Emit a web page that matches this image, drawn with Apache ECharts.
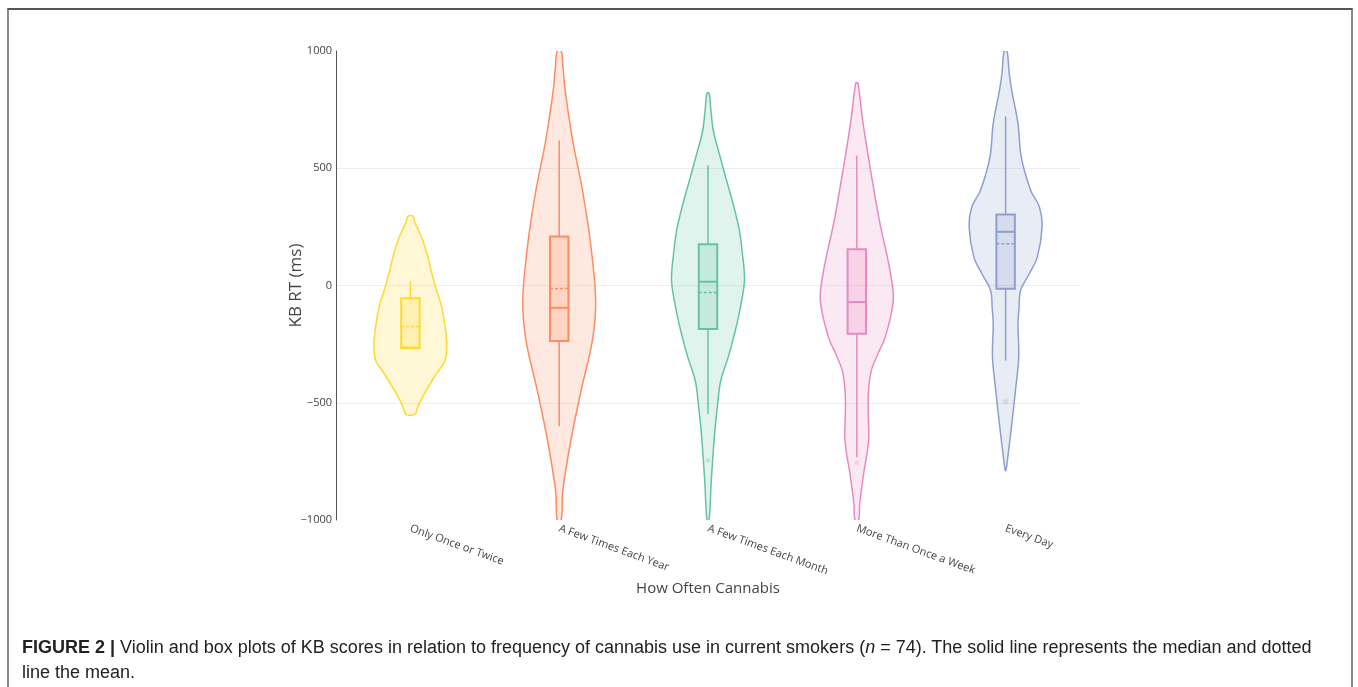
<!DOCTYPE html>
<html>
<head>
<meta charset="utf-8">
<title>Violin plots - KB RT by cannabis frequency</title>
<script src="https://cdn.jsdelivr.net/npm/echarts@6/dist/echarts.min.js"></script>
<style>
  html, body { margin: 0; padding: 0; background: #fff; }
  #page { position: relative; width: 1358px; height: 687px; overflow: hidden; }
  #frame {
    position: absolute; left: 7px; top: 8px; width: 1342px; height: 700px;
    border-top: 2px solid #555; border-left: 2px solid #888; border-right: 2px solid #888;
  }
  #chart { position: absolute; left: 0; top: 0; width: 1358px; height: 687px; }
  #caption {
    position: absolute; left: 22px; top: 635px; width: 1310px;
    font-family: "Liberation Sans Narrow", "Liberation Sans", Arial, sans-serif;
    font-size: 18px; line-height: 25px; color: #222;
  }
  #caption b { font-weight: bold; }
</style>
</head>
<body>
<div id="page">
  <div id="frame"></div>
  <div id="chart"></div>
  <div id="caption"><b>FIGURE 2 |</b> Violin and box plots of KB scores in relation to frequency of cannabis use in current smokers (<i>n</i> = 74). The solid line represents the median and dotted line the mean.</div>
</div>
<script>
// categories on the x axis
const categories = ['Only Once or Twice', 'A Few Times Each Year', 'A Few Times Each Month', 'More Than Once a Week', 'Every Day'];
const yTicks = [-1000, -500, 0, 500, 1000];

// box statistics (ms)
const whiskerLow = [-268, -600, -547, -732, -320];
const boxQ1 = [-268, -237, -185, -206, -14];
const boxMedian = [-265, -95, 16, -71, 229];
const boxQ3 = [-54, 209, 176, 155, 303];
const whiskerHigh = [18, 618, 512, 554, 721];
const means = [-175, -13, -30, -71, 178];
const outliers = [[], [], [-746], [-756], [-495]];

// violin outlines: KB RT levels and relative density (1 = widest point)
const violinY = [
  [295, 270, 249, 192, 121, 50, -21, -92, -163, -249, -320, -377, -462, -519, -550],
  [1000, 938, 831, 618, 405, 192, -64, -235, -448, -661, -874, -1000],
  [820, 746, 661, 590, 448, 341, 235, 128, 21, -92, -192, -298, -405, -512, -618, -831, -1000],
  [863, 704, 490, 277, 64, -64, -220, -291, -362, -433, -504, -575, -647, -718, -789, -930, -1000],
  [1000, 903, 831, 690, 547, 405, 334, 249, 121, 50, -21, -92, -163, -306, -448, -590, -732, -789]
];
const violinDensity = [
  [0.07, 0.12, 0.18, 0.34, 0.48, 0.59, 0.72, 0.86, 0.94, 1.0, 0.95, 0.71, 0.38, 0.2, 0.12],
  [0.055, 0.1, 0.165, 0.37, 0.64, 0.85, 1.0, 0.91, 0.6, 0.32, 0.1, 0.055],
  [0.03, 0.08, 0.145, 0.26, 0.51, 0.7, 0.86, 0.95, 1.0, 0.89, 0.75, 0.57, 0.35, 0.26, 0.19, 0.09, 0.03],
  [0.03, 0.16, 0.38, 0.62, 0.91, 1.0, 0.78, 0.58, 0.4, 0.33, 0.31, 0.32, 0.33, 0.28, 0.2, 0.08, 0.05],
  [0.04, 0.1, 0.17, 0.34, 0.43, 0.69, 0.93, 1.0, 0.87, 0.65, 0.41, 0.37, 0.34, 0.36, 0.27, 0.17, 0.06, 0.01]
];

const colors = ['#ffd92f', '#fc8d62', '#66c2a5', '#e78ac3', '#8da0cb'];

const hexToRgba = (hex, a) => {
  const n = parseInt(hex.slice(1), 16);
  return `rgba(${(n >> 16) & 255}, ${(n >> 8) & 255}, ${n & 255}, ${a})`;
};

const renderViolin = (params, api) => {
  const i = api.value(0);
  const color = colors[i];
  const band = api.size([1, 0])[0];
  const cx = api.coord([i, 0])[0];
  const py = (v) => api.coord([i, v])[1];
  const maxHalf = band * 0.245;
  const boxHalf = band * 0.062;

  const ys = violinY[i];
  const ws = violinDensity[i];
  const leftSide = ys.map((v, k) => [cx - ws[k] * maxHalf, py(v)]);
  const rightSide = ys.map((v, k) => [cx + ws[k] * maxHalf, py(v)]).reverse();

  const children = [
    {
      type: 'polygon',
      shape: { points: leftSide.concat(rightSide), smooth: 0.35 },
      style: { fill: hexToRgba(color, 0.2), stroke: color, lineWidth: 1.5 }
    },
    // whiskers
    {
      type: 'line',
      shape: { x1: cx, y1: py(boxQ3[i]), x2: cx, y2: py(whiskerHigh[i]) },
      style: { stroke: color, lineWidth: 1.5 }
    },
    {
      type: 'line',
      shape: { x1: cx, y1: py(boxQ1[i]), x2: cx, y2: py(whiskerLow[i]) },
      style: { stroke: color, lineWidth: 1.5 }
    },
    // box
    {
      type: 'rect',
      shape: { x: cx - boxHalf, y: py(boxQ3[i]), width: boxHalf * 2, height: py(boxQ1[i]) - py(boxQ3[i]) },
      style: { fill: hexToRgba(color, 0.22), stroke: color, lineWidth: 2 }
    },
    // mean (dotted)
    {
      type: 'line',
      shape: { x1: cx - boxHalf, y1: py(means[i]), x2: cx + boxHalf, y2: py(means[i]) },
      style: { stroke: color, lineWidth: 1.5, lineDash: [3, 2] }
    },
    // median (solid)
    {
      type: 'line',
      shape: { x1: cx - boxHalf, y1: py(boxMedian[i]), x2: cx + boxHalf, y2: py(boxMedian[i]) },
      style: { stroke: color, lineWidth: 2 }
    }
  ];

  outliers[i].forEach((v) => {
    children.push({
      type: 'circle',
      shape: { cx: cx, cy: py(v), r: 2.5 },
      style: { fill: hexToRgba(color, 0.25) }
    });
  });

  return { type: 'group', children: children };
};

const chart = echarts.init(document.getElementById('chart'));

const textColor = '#444';
const fontFamily = '"Open Sans", Verdana, Arial, sans-serif';

chart.setOption({
  animation: false,
  grid: { left: 336, right: 278, top: 51, bottom: 167, containLabel: false },
  xAxis: {
    type: 'category',
    data: categories,
    boundaryGap: true,
    axisLine: { show: false },
    axisTick: { show: false },
    axisLabel: {
      rotate: -20,
      margin: 8,
      color: textColor,
      fontSize: 11,
      fontFamily: fontFamily
    },
    name: 'How Often Cannabis',
    nameLocation: 'middle',
    nameGap: 61,
    nameMoveOverlap: false,
    nameTextStyle: { color: textColor, fontSize: 15, fontFamily: fontFamily },
    splitLine: { show: false }
  },
  yAxis: {
    type: 'value',
    min: yTicks[0],
    max: yTicks[yTicks.length - 1],
    interval: 500,
    axisLine: { show: true, lineStyle: { color: '#555', width: 1 } },
    axisTick: { show: false },
    axisLabel: {
      margin: 4,
      color: textColor,
      fontSize: 11,
      fontFamily: fontFamily,
      formatter: (v) => (v < 0 ? '\u2212' + Math.abs(v) : String(v))
    },
    splitLine: {
      show: true,
      lineStyle: { color: ['transparent', '#eee', '#eee', '#eee', 'transparent'], width: 1 }
    },
    name: 'KB RT (ms)',
    nameLocation: 'middle',
    nameGap: 31,
    nameRotate: 90,
    nameMoveOverlap: false,
    nameTextStyle: { color: textColor, fontSize: 17, fontFamily: fontFamily }
  },
  series: [
    {
      type: 'custom',
      clip: true,
      renderItem: renderViolin,
      data: categories.map((c, i) => [i, 0]),
      encode: { x: 0, y: 1 },
      z: 2
    }
  ]
});

window.addEventListener('resize', () => chart.resize());
</script>
</body>
</html>
